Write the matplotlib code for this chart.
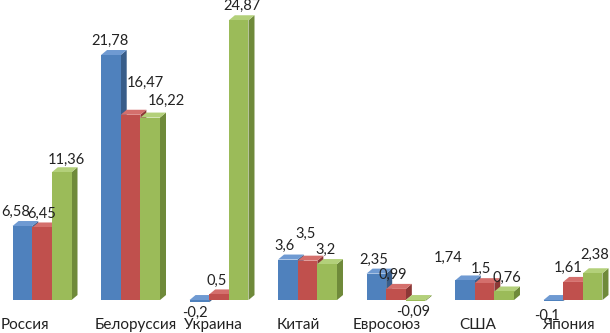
import matplotlib
matplotlib.use("Agg")
import matplotlib.pyplot as plt
from matplotlib.patches import Polygon
import numpy as np

categories = ["Россия", "Белоруссия", "Украина", "Китай", "Евросоюз", "США", "Япония"]
series1 = [6.58, 21.78, -0.2, 3.6, 2.35, 1.74, -0.1]
series2 = [6.45, 16.47, 0.5, 3.5, 0.99, 1.5, 1.61]
series3 = [11.36, 16.22, 24.87, 3.2, -0.09, 0.76, 2.38]
series = [series1, series2, series3]

front = ["#4F81BD", "#C0504D", "#9BBB59"]
side = ["#385D8A", "#8C3836", "#6F8A3A"]
top = ["#6F9AD2", "#D46F6C", "#B3D07A"]

# layout: pixel nudges for value labels (avoid overlaps, like the original)
label_nudge = [
    [(-7, 0), (0, 0), (5, 2)],
    [(-1, 0), (15, -18), (16, -3)],
    [(-4, -1), (-2, 0), (3, 0)],
    [(-3, 0), (-2, -13), (-2, 0)],
    [(-3, 0), (-3, 0), (-3, -1)],
    [(-17, -9), (-4, 0), (3, 0)],
    [(-6, 3), (-5, 0), (2, -4)],
]
cat_nudge = [-17, 5, -6, -9, -9, -7, -5]

plt.rcParams['font.family'] = ['Lato', 'DejaVu Sans']

fig = plt.figure(figsize=(6.10, 3.33), dpi=100)
ax = fig.add_axes([0, 0, 1, 1])
ax.set_xlim(-0.475, 6.418)
ax.set_ylim(-2.93, 26.67)
ax.axis("off")

PX_X = 88.5   # pixels per x unit
PX_Y = 11.25  # pixels per y unit
w = 0.222
dx = 6 / PX_X
dy = 5 / PX_Y
x = np.arange(len(categories))

for i in range(len(categories)):
    for s in range(3):
        v = series[s][i]
        x0 = x[i] + (s - 1) * w - w / 2
        lo, hi = min(0, v), max(0, v)
        z = 2 + i * 3 + s
        ax.add_patch(Polygon([(x0 + w, lo), (x0 + w + dx, lo + dy), (x0 + w + dx, hi + dy), (x0 + w, hi)],
                             closed=True, facecolor=side[s], edgecolor="none", zorder=z))
        ax.add_patch(Polygon([(x0, hi), (x0 + dx, hi + dy), (x0 + w + dx, hi + dy), (x0 + w, hi)],
                             closed=True, facecolor=top[s], edgecolor="none", zorder=z))
        ax.bar(x0, v, width=w, align="edge", color=front[s], edgecolor="none", zorder=z + 0.5)
        lab = ("%g" % v).replace(".", ",")
        nx, ny = label_nudge[i][s]
        cx = x0 + w / 2 + nx / PX_X
        if v >= 0:
            cy = hi + (14 - ny) / PX_Y
        else:
            cy = lo - (12 + ny) / PX_Y
        ax.text(cx, cy, lab, ha="center", va="center", fontsize=10.5, color="#222222", zorder=50)
    ax.text(x[i] + cat_nudge[i] / PX_X, -25 / PX_Y, categories[i], ha="center", va="center",
            fontsize=11, color="#222222")

fig.savefig("out.png", dpi=100)
